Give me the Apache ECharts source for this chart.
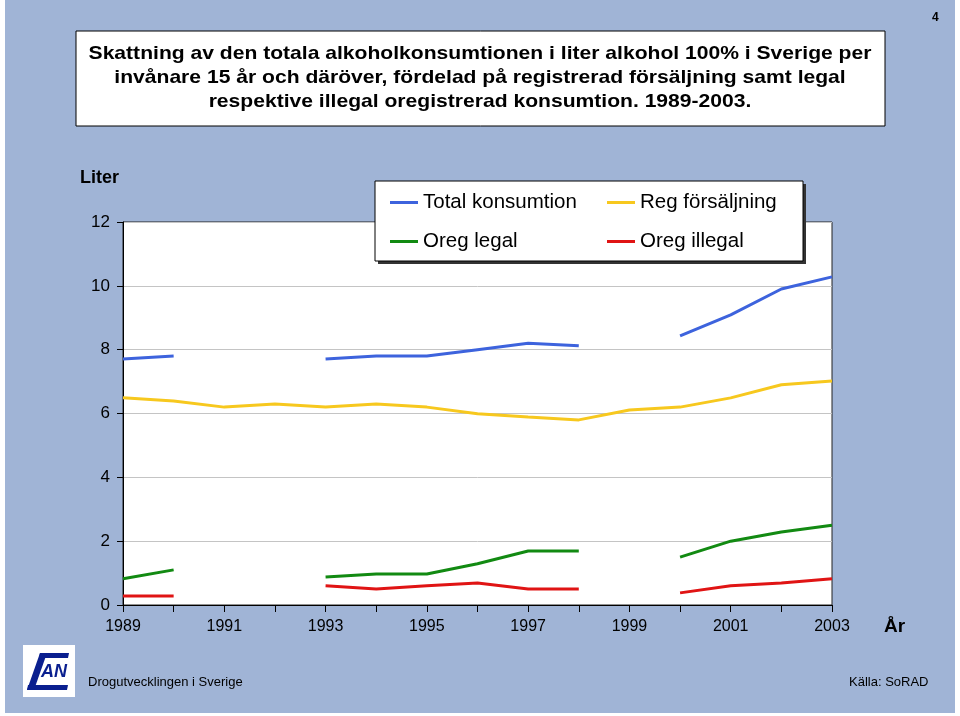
<!DOCTYPE html>
<html><head><meta charset="utf-8">
<script src="https://cdn.jsdelivr.net/npm/echarts@6/dist/echarts.min.js"></script>
<style>html,body{margin:0;padding:0;background:#fff}#c{width:960px;height:716px}</style>
</head><body><div id="c"></div>
<script>
const years = ['1989','1990','1991','1992','1993','1994','1995','1996','1997','1998','1999','2000','2001','2002','2003'];
const totalKons = [7.71, 7.80, null, null, 7.71, 7.80, 7.80, 8.00, 8.20, 8.12, null, 8.43, 9.09, 9.90, 10.28];
const regFors = [6.49, 6.39, 6.20, 6.30, 6.20, 6.30, 6.20, 5.99, 5.89, 5.80, 6.11, 6.20, 6.49, 6.90, 7.02];
const oregLegal = [0.82, 1.10, null, null, 0.88, 0.97, 0.97, 1.29, 1.69, 1.69, null, 1.50, 2.00, 2.29, 2.50];
const oregIllegal = [0.28, 0.28, null, null, 0.60, 0.50, 0.60, 0.69, 0.50, 0.50, null, 0.38, 0.60, 0.69, 0.82];
const yTicks = [0, 2, 4, 6, 8, 10, 12];

const names = ['Total konsumtion','Reg försäljning','Oreg legal','Oreg illegal'];
const colors = ['#3d63dd','#f7c81e','#128a12','#e01414'];
const datas = [totalKons, regFors, oregLegal, oregIllegal];
const F = 'Liberation Sans, Arial, sans-serif';
const LOGO = '#0a1f8f';

const chart = echarts.init(document.getElementById('c'), null, {renderer:'canvas'});
const legendPos = [[390,192],[607,192],[390,231],[607,231]];
chart.setOption({
  backgroundColor:'#ffffff',
  animation:false,
  textStyle:{fontFamily:F},
  graphic:[
    {type:'rect', z:-10, shape:{x:5,y:0,width:950,height:713}, style:{fill:'#a0b4d6'}},
    {type:'rect', z:1, shape:{x:76,y:31,width:809,height:95}, style:{fill:'#fff', stroke:'#000', lineWidth:1}},
    {type:'text', z:2, x:480, y:42, scaleX:1.11, style:{x:0, y:0, text:'Skattning av den totala alkoholkonsumtionen i liter alkohol 100% i Sverige per\ninvånare 15 år och däröver, fördelad på registrerad försäljning samt legal\nrespektive illegal oregistrerad konsumtion. 1989-2003.', font:'bold 19px '+F, fill:'#000', align:'center', lineHeight:24}},
    {type:'text', left:80, top:169, style:{text:'Liter', font:'bold 18px '+F, fill:'#000'}},
    {type:'text', left:884, top:617, style:{text:'År', font:'bold 19px '+F, fill:'#000'}},
    {type:'text', left:932, top:12, style:{text:'4', font:'bold 12px '+F, fill:'#000'}},
    {type:'text', left:88, top:676, style:{text:'Drogutvecklingen i Sverige', font:'13px '+F, fill:'#000'}},
    {type:'text', left:849, top:676, style:{text:'Källa: SoRAD', font:'13px '+F, fill:'#000'}},
    {type:'rect', shape:{x:23,y:645,width:52,height:52}, style:{fill:'#fff'}},
    {type:'polygon', shape:{points:[[40,653],[69,653],[68,658],[39,658]]}, style:{fill:LOGO}},
    {type:'polygon', shape:{points:[[40,653],[47,653],[34,690],[27,690]]}, style:{fill:LOGO}},
    {type:'polygon', shape:{points:[[28,685],[68,685],[67,690],[27,690]]}, style:{fill:LOGO}},
    {type:'text', x:41, y:663, style:{text:'AN', font:'italic bold 18px '+F, fill:LOGO}},
    {type:'rect', z:20, shape:{x:378,y:184,width:428,height:80}, style:{fill:'#333'}},
    {type:'rect', z:21, shape:{x:375,y:181,width:428,height:80}, style:{fill:'#fff', stroke:'#000', lineWidth:1}}
  ],
  legend: names.map((n,i)=>({
    z:30, left:legendPos[i][0], top:legendPos[i][1], data:[n], icon:'rect', itemWidth:28, itemHeight:3, itemGap:0,
    textStyle:{fontSize:20.5, color:'#000', fontFamily:F}, padding:0, selectedMode:false
  })),
  grid:{left:123, right:128, top:222, bottom:111, show:true, backgroundColor:'#fff', borderColor:'#222', borderWidth:1},
  xAxis:{type:'category', data:years, boundaryGap:false,
    axisLine:{lineStyle:{color:'#000', width:1}},
    axisTick:{show:true, interval:0, length:7, lineStyle:{color:'#000'}},
    axisLabel:{interval:1, color:'#000', fontSize:16, margin:14, fontFamily:F}},
  yAxis:{type:'value', min:yTicks[0], max:yTicks[yTicks.length-1], interval:2,
    axisLine:{show:true, lineStyle:{color:'#000'}},
    axisTick:{show:true, length:6, inside:false, lineStyle:{color:'#000'}},
    axisLabel:{color:'#000', fontSize:17, margin:13, fontFamily:F},
    splitLine:{show:true, lineStyle:{color:'#c4c4c4', width:1}}},
  series: names.map((n,i)=>({
    name:n, type:'line', data:datas[i], symbol:'none', connectNulls:false,
    lineStyle:{color:colors[i], width:3}, itemStyle:{color:colors[i]}, z:5
  }))
});
</script></body></html>
